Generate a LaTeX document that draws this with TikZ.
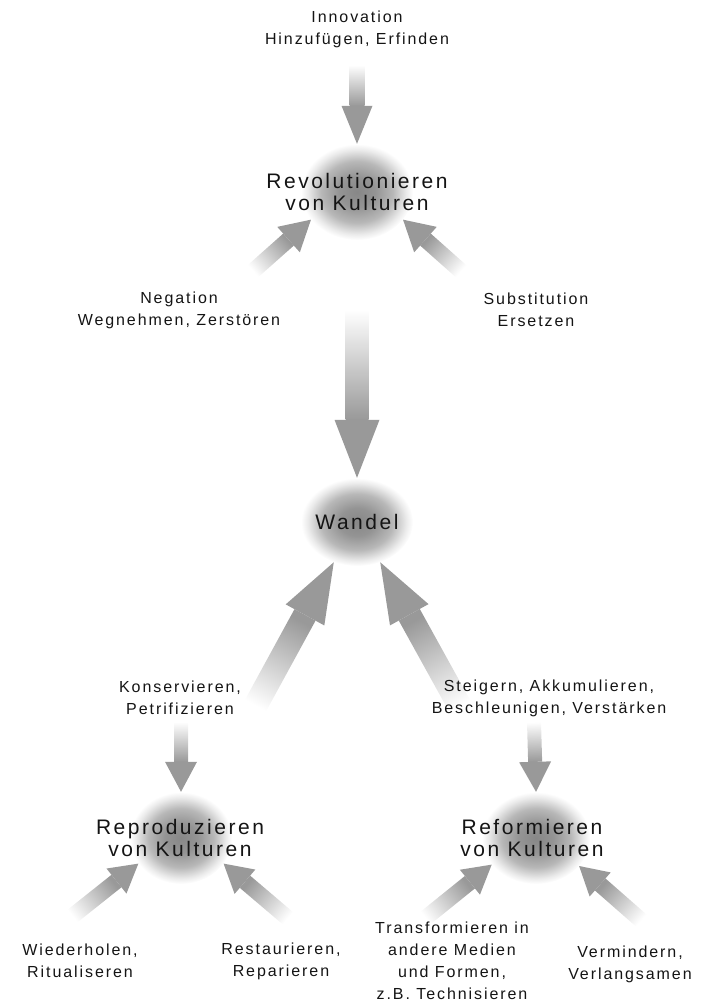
\documentclass[tikz,border=0pt]{standalone}
\usepackage{fontspec}
\setmainfont{Liberation Sans}[LetterSpace=12]
\usetikzlibrary{shapes,calc,positioning}

\colorlet{arrowgray}{black!40}
\colorlet{labelgray}{black!92}

\pgfdeclareradialshading{blobshade}{\pgfpoint{0bp}{0bp}}{%
  color(0bp)=(black!47); color(8bp)=(black!42); color(16bp)=(black!28);
  color(22bp)=(black!8); color(25bp)=(white); color(50bp)=(white)}

\tikzset{
  blob/.style={ellipse, inner sep=0pt, shading=blobshade},
  bigtext/.style={font=\fontsize{21}{22}\selectfont, align=center, text=labelgray},
  smalltext/.style={font=\fontsize{16}{22}\selectfont, align=center, text=labelgray},
}

% block arrow: tail, tip, shaft half width, head half width, head length
\newcommand{\blockarrow}[5]{%
  \coordinate (hb) at ($(#2)!#5pt!(#1)$);
  \path let \p1=(#1), \p2=(#2) in
    \pgfextra{\pgfmathsetmacro{\arrang}{atan2(\y2-\y1,\x2-\x1)-90}\global\let\arrang\arrang};
  \shade[bottom color=white, top color=arrowgray, shading angle=\arrang]
    ($(#1)!#3pt!90:(#2)$) -- ($(hb)!#3pt!90:(#2)$) -- ($(hb)!#3pt!-90:(#2)$) -- ($(#1)!#3pt!-90:(#2)$) -- cycle;
  \fill[arrowgray] ($(hb)!#4pt!90:(#2)$) -- (#2) -- ($(hb)!#4pt!-90:(#2)$) -- cycle;
}

\begin{document}
\begin{tikzpicture}[x=1pt, y=-1pt]
  \useasboundingbox (0,0) rectangle (709,1002);

  % Kulturen
  \node[blob, minimum width=112pt, minimum height=96pt] (rev) at (357,192) {};
  \node[blob, minimum width=112pt, minimum height=88pt] (wandel) at (357,522) {};
  \node[blob, minimum width=102pt, minimum height=92pt] (repro) at (181,838) {};
  \node[blob, minimum width=108pt, minimum height=92pt] (reform) at (536,838) {};

  % free ends
  \coordinate (t-innov) at (357,65);
  \coordinate (t-neg) at (252,272);
  \coordinate (t-subst) at (462,272);
  \coordinate (t-rev) at (357,310);
  \coordinate (t-kons) at (252,712);
  \coordinate (t-steig) at (463,712);
  \coordinate (t-kons2) at (181,722);
  \coordinate (t-steig2) at (534,722);
  \coordinate (t-wied) at (70,918);
  \coordinate (t-rest) at (290,920);
  \coordinate (t-trans) at (423,920);
  \coordinate (t-verm) at (643,922);

  % Pfeile
  \blockarrow{t-innov}{rev.north}{7.5}{15.5}{38}
  \blockarrow{t-neg}{rev.211}{8}{17}{30}
  \blockarrow{t-subst}{rev.329}{8}{17}{30}
  \blockarrow{t-rev}{wandel.north}{11.5}{22.5}{58}
  \blockarrow{t-kons}{wandel.240}{12}{22}{60}
  \blockarrow{t-steig}{wandel.300}{12}{22}{60}
  \blockarrow{t-kons2}{repro.north}{7}{16}{30}
  \blockarrow{t-steig2}{reform.north}{7}{16}{30}
  \blockarrow{t-wied}{repro.211}{8}{16}{28}
  \blockarrow{t-rest}{repro.329}{8}{16}{28}
  \blockarrow{t-trans}{reform.211}{8}{16}{28}
  \blockarrow{t-verm}{reform.327}{8}{16}{28}

  % Texte
  \node[bigtext] at (rev) {Revolutionieren\\von Kulturen};
  \node[bigtext] at (wandel) {Wandel};
  \node[bigtext] at (180,838) {Reproduzieren\\von Kulturen};
  \node[bigtext] at (532,838) {Reformieren\\von Kulturen};

  \node[smalltext] (innov) at (357,29) {Innovation\\Hinzufügen, Erfinden};
  \node[smalltext] (neg) at (179,310) {Negation\\Wegnehmen, Zerstören};
  \node[smalltext] (subst) at (536,310) {Substitution\\Ersetzen};
  \node[smalltext] (kons) at (180,698) {Konservieren,\\Petrifizieren};
  \node[smalltext] (steig) at (549,698) {Steigern, Akkumulieren,\\Beschleunigen, Verstärken};
  \node[smalltext] (wied) at (80,961) {Wiederholen,\\Ritualiseren};
  \node[smalltext] (rest) at (281,961) {Restaurieren,\\Reparieren};
  \node[smalltext] (trans) at (452,961) {Transformieren in\\andere Medien\\und Formen,\\z.B. Technisieren};
  \node[smalltext] (verm) at (630,964) {Vermindern,\\Verlangsamen};
\end{tikzpicture}
\end{document}
